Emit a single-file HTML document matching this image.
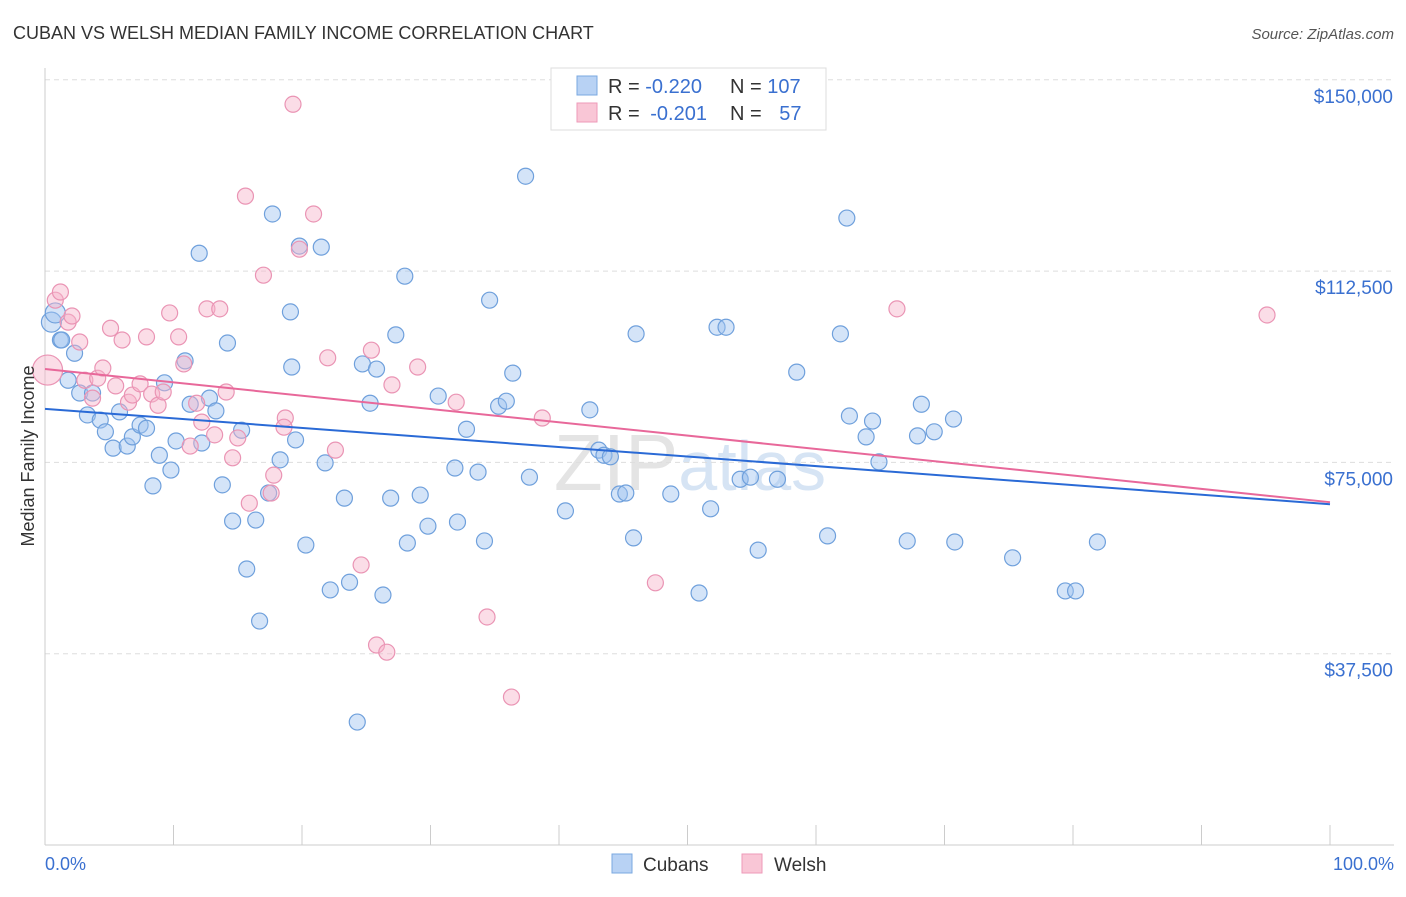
<!DOCTYPE html>
<html><head><meta charset="utf-8"><style>
body{margin:0;background:#fff;font-family:"Liberation Sans",sans-serif;}
svg text{font-family:"Liberation Sans",sans-serif;}
</style></head><body>
<svg id="chart" width="1406" height="892" xmlns="http://www.w3.org/2000/svg">
<text x="13" y="39" font-size="18" fill="#333">CUBAN VS WELSH MEDIAN FAMILY INCOME CORRELATION CHART</text>
<text x="1394" y="39" font-size="15" fill="#555" text-anchor="end" font-style="italic">Source: ZipAtlas.com</text>
<text x="690" y="490" font-size="80" fill="#e4e4e4" text-anchor="middle" font-family="Liberation Serif">ZIP<tspan font-family="Liberation Sans" font-size="70" fill="#d6e4f4">atlas</tspan></text>
<g id="grid"></g>
<g id="axes"></g>
<g id="pts"></g>
<text transform="translate(34,456) rotate(-90)" font-size="18" fill="#333" text-anchor="middle">Median Family Income</text>
<text x="45" y="870" font-size="18" fill="#3a70d0">0.0%</text>
<text x="1394" y="870" font-size="18" fill="#3a70d0" text-anchor="end">100.0%</text>
<g>
<rect x="551" y="68" width="275" height="62" fill="#fff" stroke="#ddd"/>
<rect x="577" y="76" width="20" height="19" fill="#b8d2f4" stroke="#7aa8e0"/>
<rect x="577" y="103" width="20" height="19" fill="#f9c6d6" stroke="#ee9ab8"/>
<text x="608" y="93" font-size="20" fill="#333">R = <tspan fill="#3a70d0">-0.220</tspan></text>
<text x="730" y="93" font-size="20" fill="#333">N = <tspan fill="#3a70d0">107</tspan></text>
<text x="608" y="120" font-size="20" fill="#333">R = <tspan fill="#3a70d0" dx="5">-0.201</tspan></text>
<text x="730" y="120" font-size="20" fill="#333">N = <tspan fill="#3a70d0" dx="12">57</tspan></text>
</g>
<g>
<rect x="612" y="854" width="20" height="19" fill="#b8d2f4" stroke="#7aa8e0"/>
<text x="643" y="871" font-size="19" fill="#333">Cubans</text>
<rect x="742" y="854" width="20" height="19" fill="#f9c6d6" stroke="#ee9ab8"/>
<text x="774" y="871" font-size="19" fill="#333">Welsh</text>
</g>
</svg>
<script>
const cubanX=[0.5,0.8,1.2,1.3,2.3,1.8,2.7,3.3,3.7,4.3,4.7,5.3,5.8,6.4,6.8,7.4,7.9,8.4,8.9,9.3,9.8,10.2,10.9,11.3,12.0,12.2,12.8,13.3,13.8,14.2,14.6,15.3,15.7,16.4,16.7,17.4,17.7,18.3,19.1,19.2,19.5,19.8,20.3,21.5,21.8,22.2,23.3,23.7,24.3,24.7,25.3,25.8,26.3,26.9,27.3,28.0,28.2,29.2,29.8,30.6,31.9,32.1,32.8,33.7,34.2,34.6,35.3,35.9,36.4,37.4,37.7,40.5,42.4,43.1,43.5,44.0,44.7,45.2,46.0,45.8,48.7,50.9,51.8,52.3,53.0,54.1,54.9,55.5,57.0,58.5,60.9,61.9,62.4,62.6,63.9,64.4,64.9,67.1,67.9,68.2,69.2,70.7,70.8,75.3,79.4,80.2,81.9];
const cubanY=[102.5,104.3,99.0,99.0,96.4,91.1,88.6,84.3,88.6,83.3,81.0,77.8,84.9,78.2,80.0,82.3,81.7,70.4,76.4,90.6,73.5,79.2,94.9,86.4,116.0,78.8,87.6,85.1,70.6,98.4,63.5,81.3,54.1,63.7,43.9,69.0,123.7,75.5,104.5,93.7,79.4,117.4,58.8,117.2,74.9,50.0,68.0,51.5,24.1,94.3,86.6,93.3,49.0,68.0,100.0,111.5,59.2,68.6,62.5,88.0,73.9,63.3,81.5,73.1,59.6,106.8,86.0,87.0,92.5,131.1,72.1,65.5,85.3,77.4,76.4,76.1,68.8,69.0,100.2,60.2,68.8,49.4,65.9,101.5,101.5,71.7,72.1,57.8,71.7,92.7,60.6,100.2,122.9,84.1,80.0,83.1,75.1,59.6,80.2,86.4,81.0,83.5,59.4,56.3,49.8,49.8,59.4];
const welshX=[0.2,0.8,1.2,1.8,2.1,2.7,3.1,3.7,4.1,4.5,5.1,5.5,6.0,6.5,6.8,7.4,7.9,8.3,8.8,9.2,9.7,10.4,10.8,11.3,11.8,12.2,12.6,13.2,13.6,14.1,14.6,15.0,15.6,15.9,17.0,17.6,17.8,18.7,18.6,19.3,19.8,20.9,22.0,22.6,24.6,25.4,25.8,26.6,27.0,29.0,32.0,34.4,36.3,38.7,47.5,66.3,95.1];
const welshY=[93.1,106.8,108.4,102.5,103.7,98.6,91.1,87.6,91.5,93.5,101.3,90.0,99.0,86.8,88.2,90.4,99.6,88.4,86.2,88.8,104.3,99.6,94.3,78.2,86.6,82.9,105.1,80.4,105.1,88.8,75.9,79.8,127.2,67.0,111.7,69.0,72.5,83.7,81.9,145.2,116.8,123.7,95.5,77.4,54.9,97.0,39.2,37.8,90.2,93.7,86.8,44.7,29.0,83.7,51.4,105.1,103.9];
const cubanTrend=[85.5,66.8];
const welshTrend=[93.3,67.2];
const yTicks=[37.5,75,112.5,150];
const yTickLabels=["$37,500","$75,000","$112,500","$150,000"];
const xTicks=[0,10,20,30,40,50,60,70,80,90,100];
const NS="http://www.w3.org/2000/svg";
const X=v=>45+v*12.85;
const Y=v=>845-v*191.3/37.5;
function mk(tag,attrs,parent){const e=document.createElementNS(NS,tag);for(const k in attrs)e.setAttribute(k,attrs[k]);parent.appendChild(e);return e;}
const grid=document.getElementById('grid'),axes=document.getElementById('axes'),pts=document.getElementById('pts');
yTicks.forEach((t,i)=>{
 const l=mk('line',{x1:45,x2:1394,y1:Y(t),y2:Y(t),stroke:'#ddd','stroke-dasharray':'5,4'},grid);
 
 
 const tx=mk('text',{x:1393,y:Y(t)+23,'font-size':19,fill:'#3a70d0','text-anchor':'end'},axes);
 tx.textContent=yTickLabels[i];
 
 
});
const la=mk('line',{x1:45,x2:45,y1:68,y2:845,stroke:'#ccc'},axes);


const lb=mk('line',{x1:45,x2:1394,y1:845,y2:845,stroke:'#ccc'},axes);


xTicks.forEach(t=>{
 const l=mk('line',{x1:X(t),x2:X(t),y1:825,y2:845,stroke:'#ccc'},axes);
 
 
});
function dots(xs,ys,fill,stroke,name){
 xs.forEach((x,i)=>{
  const r=(i===0&&name==='welsh-point')?15:(i<2&&name==='cuban-point'?10:8);
  const c=mk('circle',{cx:X(x),cy:Y(ys[i]),r:r,fill:fill,stroke:stroke,'stroke-width':1.2},pts);
  
  
 });
}
dots(cubanX,cubanY,'rgba(160,195,240,0.45)','#6fa0dc','cuban-point');
dots(welshX,welshY,'rgba(247,180,202,0.45)','#ea94b4','welsh-point');
const t1=mk('line',{x1:X(0),y1:Y(cubanTrend[0]),x2:X(100),y2:Y(cubanTrend[1]),stroke:'#2a6ad6','stroke-width':2},pts);


const t2=mk('line',{x1:X(0),y1:Y(welshTrend[0]),x2:X(100),y2:Y(welshTrend[1]),stroke:'#e8689a','stroke-width':2},pts);


</script>
</body></html>
